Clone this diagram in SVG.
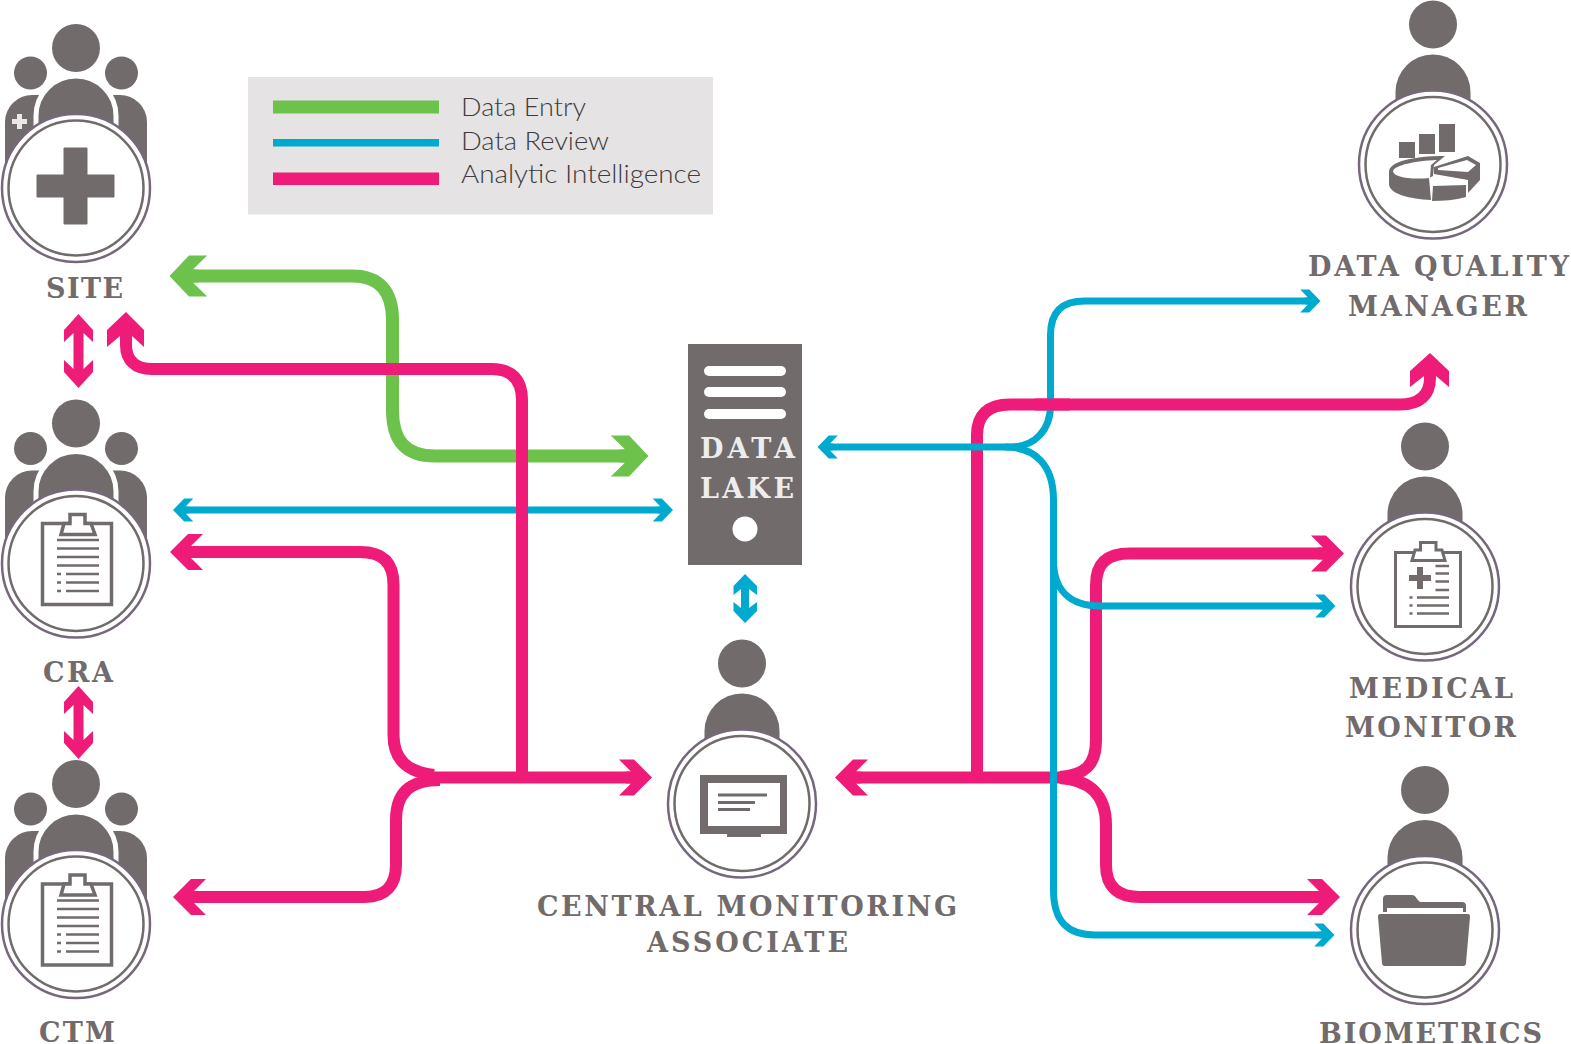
<svg xmlns="http://www.w3.org/2000/svg" width="1571" height="1044" viewBox="0 0 1571 1044">
<style>
.g{fill:#716b6b}
.c{fill:none;stroke-linecap:butt}
.gr{stroke:#6dc24b;stroke-width:13}
.bl{stroke:#00aacf;stroke-width:7}
.pk{stroke:#ee1c78;stroke-width:12}
.lab{font-family:"DejaVu Serif",serif;font-weight:700;font-size:27px;fill:#716b6b}
.leg{font-family:Lato,"Open Sans",sans-serif;font-weight:300;font-size:26px;fill:#3d3b3c}
.ol{fill:none;stroke:#76687a;stroke-width:2.5}
.il{fill:none;stroke:#716b6b;stroke-width:2.5}
.ln{stroke:#716b6b;stroke-width:2.5}
</style>
<defs>
<marker id="mg" markerUnits="strokeWidth" markerWidth="5" markerHeight="4" viewBox="0 -2 5 4" refX="1.6" refY="0" orient="auto-start-reverse" overflow="visible"><path d="M3.100,0 L1.600,1.580 L.2,1.580 L1.300,.5 L.9,.5 V-.5 L1.300,-.5 L.2,-1.580 L1.600,-1.580Z" fill="#6dc24b"/></marker>
<marker id="mb" markerUnits="strokeWidth" markerWidth="5" markerHeight="4" viewBox="0 -2 5 4" refX="1.6" refY="0" orient="auto-start-reverse" overflow="visible"><path d="M3.100,0 L1.500,1.640 L.2,1.640 L1.300,.5 L.9,.5 V-.5 L1.300,-.5 L.2,-1.640 L1.500,-1.640Z" fill="#00aacf"/></marker>
<marker id="mp" markerUnits="strokeWidth" markerWidth="5" markerHeight="4" viewBox="0 -2 5 4" refX="1.6" refY="0" orient="auto-start-reverse" overflow="visible"><path d="M3.100,0 L1.600,1.500 L.35,1.500 L1.350,.5 L.9,.5 V-.5 L1.350,-.5 L.35,-1.500 L1.600,-1.500Z" fill="#ee1c78"/></marker>
<g id="person"><circle class="g" cx="0" cy="-140" r="24"/><path class="g" d="M-37.500,-72.500 A37.500,37.500 0 0 1 37.500,-72.500 V-30 H-37.500Z"/></g>
<g id="team">
<circle class="g" cx="0" cy="-140" r="24"/><circle class="g" cx="-45.500" cy="-115" r="16.500"/><circle class="g" cx="45.500" cy="-115" r="16.500"/>
<rect class="g" x="-71" y="-93" width="142" height="100" rx="27"/>
<path class="g" stroke="#fff" stroke-width="5" d="M-40,-30 V-72 A40,40 0 0 1 40,-72 V-30Z"/>
</g>
<g id="rings"><circle cx="0" cy="0" r="74" fill="#fff"/><circle class="ol" r="74"/><circle class="il" r="67.500"/></g>
<g id="clipfull">
<rect x="-33.500" y="-40" width="69" height="81" fill="#fff" stroke="#716b6b" stroke-width="3.500"/>
<path d="M-15,-29 L-12,-40 H-6 V-49 H9 V-40 H15 L19,-29Z" fill="#fff" stroke="#716b6b" stroke-width="3.500"/>
<path class="ln" d="M-19,-23.500 H23 M-19,-15 H23 M-19,-6.500 H23 M-19,2 H23 M-10,10.500 H23 M-10,19 H23 M-10,27.500 H23"/>
<path class="ln" d="M-19,10.500 H-15 M-19,19 H-15 M-19,27.500 H-15"/>
</g>
</defs>

<g id="legend">
<rect x="248" y="77" width="465" height="137.500" fill="#e5e3e4"/>
<rect x="273" y="100.500" width="166" height="13" fill="#6dc24b"/>
<rect x="273" y="139" width="166" height="7.500" fill="#00aacf"/>
<rect x="273" y="172.500" width="166" height="12.500" fill="#ee1c78"/>
<text class="leg" x="461" y="115.500" textLength="125" lengthAdjust="spacingAndGlyphs">Data Entry</text>
<text class="leg" x="461" y="149.500" textLength="148" lengthAdjust="spacingAndGlyphs">Data Review</text>
<text class="leg" x="461" y="183" textLength="240" lengthAdjust="spacingAndGlyphs">Analytic Intelligence</text>
</g>

<g id="connectors">
<path class="c gr" marker-start="url(#mg)" marker-end="url(#mg)" d="M189,276 H352 C380,276 392.500,292 392.500,320 V410 C392.500,440 405,456 435,456 H629"/>
<path class="c bl" marker-start="url(#mb)" marker-end="url(#mb)" d="M183.500,510 H662.500"/>
<path class="c pk" d="M126,335 V345 C126,360 135,369 152,369 H492 C512,369 522,380 522,400 V778"/>
<path class="c pk" marker-start="url(#mp)" d="M188,552 H360 C382,552 393.500,562 393.500,585 V735 C393.500,760 408,772 434,775"/>
<path class="c pk" marker-start="url(#mp)" d="M191,897 H365 C386,897 396,885 396,865 V820 C396,795 408,780 440,780"/>
<path class="c pk" marker-end="url(#mp)" d="M425,777.500 H634"/>
<path class="c pk" marker-start="url(#mp)" d="M853,777.500 H1075"/>
<path class="c pk" marker-end="url(#mp)" d="M1060,777 C1085,775 1096,765 1096,740 V585 C1096,562 1108,553.500 1130,553.500 H1326"/>
<path class="c pk" marker-end="url(#mp)" d="M1060,778 C1090,780 1106,795 1106,825 V865 C1106,887 1118,897 1140,897 H1322"/>
<path class="c pk" d="M977,777 V435 C977,415 988,404.500 1010,404.500 H1400 C1420,404.500 1430,395 1430,378 V372"/>
<path class="c bl" marker-start="url(#mb)" marker-end="url(#mb)" d="M828,447 H1010 C1035,447 1050.500,430 1050.500,405 V335 C1050.500,312 1062,301 1085,301 H1310"/>
<path class="c bl" marker-end="url(#mb)" d="M1005,447 C1035,447 1053.500,465 1053.500,500 V560 C1053.500,590 1070,606 1100,606 H1325"/>
<path class="c bl" marker-end="url(#mb)" d="M1053.500,550 V890 C1053.500,922 1068,935 1095,935 H1324"/>
<path class="c pk" d="M1035,404.500 H1070"/>
<polygon fill="#ee1c78" points="126,312 144,330 144,347 132,336 120,336 107,347 107,330"/>
<polygon fill="#ee1c78" points="1430,353 1449,371 1449,387 1436,376 1424,376 1410,387 1410,371"/>
<polygon fill="#ee1c78" points="78.500,314 93,330 93,342 83.500,333 83.500,369 93,360 93,372 78.500,388 64,372 64,360 73.500,369 73.500,333 64,342 64,330"/>
<polygon fill="#ee1c78" points="78.500,686 93,702 93,714 83.500,705 83.500,740 93,731 93,743 78.500,759 64,743 64,731 73.500,740 73.500,705 64,714 64,702"/>
<polygon fill="#00aacf" points="745,574 757,586 757,595 749,589 749,608 757,602 757,611 745,623 733.500,611 733.500,602 741,608 741,589 733.500,595 733.500,586"/>
</g>

<g id="site" transform="translate(76,188)">
<use href="#team"/>
<path d="M-60,-74 h5 v5 h5 v5 h-5 v5 h-5 v-5 h-5 v-5 h5Z" fill="#e9e7e7" transform="translate(1,0)"/>
<use href="#rings"/>
<path class="g" d="M-12,-40 H11 V-13 H38 V9 H11 V36 H-12 V9 H-39 V-13 H-12Z" stroke="#716b6b" stroke-width="1" stroke-linejoin="round"/>
<text class="lab" x="-30" y="110" textLength="77" lengthAdjust="spacing">SITE</text>
</g>

<g id="cra" transform="translate(76,563.500)">
<use href="#team"/><use href="#rings"/>
<use href="#clipfull"/>
<text class="lab" x="-33" y="118.500" textLength="70" lengthAdjust="spacing">CRA</text>
</g>

<g id="ctm" transform="translate(76,924)">
<use href="#team"/><use href="#rings"/>
<use href="#clipfull"/>
<text class="lab" x="-37" y="118" textLength="76" lengthAdjust="spacing">CTM</text>
</g>

<g id="data-lake">
<rect class="g" x="688" y="344" width="114" height="221"/>
<rect x="704" y="366" width="82" height="10" rx="5" fill="#fff"/>
<rect x="704" y="387" width="82" height="10" rx="5" fill="#fff"/>
<rect x="704" y="409" width="82" height="10" rx="5" fill="#fff"/>
<text class="lab" style="fill:#eeeded" x="700" y="458" textLength="95" lengthAdjust="spacing">DATA</text>
<text class="lab" style="fill:#eeeded" x="700" y="498" textLength="94" lengthAdjust="spacing">LAKE</text>
<circle cx="745" cy="529" r="12.500" fill="#fff"/>
</g>

<g id="central-monitoring-associate" transform="translate(742,803.500)">
<use href="#person"/><use href="#rings"/>
<path class="g" fill-rule="evenodd" d="M-42,-28.500 H45 V30.500 H19 V33.500 H-15 V30.500 H-42Z M-34,-20.500 V22.500 H38 V-20.500Z"/>
<path class="g" d="M-24,-10 H25 V-7 H-24Z M-24,-2.500 H13 V.5 H-24Z M-24,4.500 H8 V7.500 H-24Z"/>
<text class="lab" x="-205" y="112" textLength="420" lengthAdjust="spacing">CENTRAL MONITORING</text>
<text class="lab" x="-95" y="148.500" textLength="201" lengthAdjust="spacing">ASSOCIATE</text>
</g>

<g id="data-quality-manager" transform="translate(1433,164.500)">
<use href="#person"/><use href="#rings"/>
<g transform="translate(-1433,-164.500)">
<rect class="g" x="1399" y="142" width="16" height="16"/>
<rect class="g" x="1419" y="134" width="16" height="20"/>
<rect class="g" x="1439" y="124" width="16" height="28"/>
<path class="g" d="M1389,172 C1389,162 1412,156 1445,156 L1434,165 L1433,176 L1429,178 L1431,200 C1410,199 1389,194 1389,184Z"/>
<path fill="#fff" d="M1393,171 C1395,165 1415,161 1437,160 L1431,165 L1430,178 C1410,180 1393,177 1393,171Z"/>
<path class="g" d="M1432,201 L1433,186 L1466,185 V197 C1455,200 1443,201 1432,201Z"/>
<path class="g" d="M1434,167 L1468,156 L1480,163 V180 L1468,193 V180 L1434,174Z"/>
<path fill="#fff" d="M1438,168 L1467,160 L1476,165 L1468,172 L1438,170Z"/>
<path fill="#fff" d="M1437,176 L1466,180 V184 L1437,181Z"/>
</g>
<text class="lab" x="-125" y="111.500" textLength="261" lengthAdjust="spacing">DATA QUALITY</text>
<text class="lab" x="-85" y="151.500" textLength="179" lengthAdjust="spacing">MANAGER</text>
</g>

<g id="medical-monitor" transform="translate(1425,586.500)">
<use href="#person"/><use href="#rings"/>
<rect x="-29.500" y="-34" width="65" height="74" fill="#fff" stroke="#716b6b" stroke-width="3"/>
<path d="M-13,-26 L-10,-36.500 H-4.500 V-44 H11 V-36.500 H17 L20,-26Z" fill="#fff" stroke="#716b6b" stroke-width="3"/>
<path class="g" d="M-8,-19.500 H-2 V-11.500 H6 V-5.500 H-2 V2.500 H-8 V-5.500 H-16 V-11.500 H-8Z"/>
<path class="ln" d="M10.500,-20.500 H24 M10.500,-13 H24 M10.500,-5 H24 M10.500,3.500 H24 M-8,11 H24 M-8,19 H24 M-8,27 H24 M-15.500,11 H-12.500 M-15.500,19 H-12.500 M-15.500,27 H-12.500"/>
<text class="lab" x="-76" y="111.500" textLength="164" lengthAdjust="spacing">MEDICAL</text>
<text class="lab" x="-80" y="150" textLength="171" lengthAdjust="spacing">MONITOR</text>
</g>

<g id="biometrics" transform="translate(1425,930)">
<use href="#person"/><use href="#rings"/>
<g transform="translate(-1425,-930)">
<path class="g" d="M1383,899 Q1383,895 1387,895 H1412 Q1415,895 1417,899 L1420,902 H1462 Q1466,902 1466,906 V912 H1383Z"/>
<path fill="#fff" d="M1387,908 H1463 V914 H1387Z"/>
<path class="g" d="M1380,914 H1468 Q1470,914 1470,917 L1466,963 Q1466,966 1463,966 H1385 Q1382,966 1382,963 L1378,917 Q1378,914 1380,914Z"/>
</g>
<text class="lab" x="-106" y="112.500" textLength="223" lengthAdjust="spacing">BIOMETRICS</text>
</g>
</svg>
